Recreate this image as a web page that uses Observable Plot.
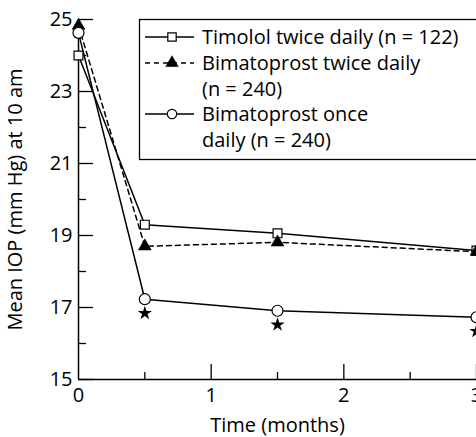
<!DOCTYPE html>
<html>
<head>
<meta charset="utf-8">
<script src="https://cdn.jsdelivr.net/npm/d3@7"></script>
<script src="https://cdn.jsdelivr.net/npm/@observablehq/plot@0.6"></script>
<style>
  html, body { margin: 0; padding: 0; background: #fff; overflow: hidden; }
  #wrap { position: relative; width: 476px; height: 437px; overflow: hidden; }
  #legend { position: absolute; left: 0; top: 0; }
</style>
</head>
<body>
<div id="wrap"></div>
<script>
// ---- data ----
const months = [0, 0.5, 1.5, 3];
const timolol = [24.0, 19.3, 19.06, 18.58];
const bimTwice = [24.83, 18.7, 18.81, 18.55];
const bimOnce = [24.63, 17.23, 16.91, 16.73];
const starMonths = [0.5, 1.5, 3];
const starValues = [17.23, 16.91, 16.73];
const yMajor = [15, 17, 19, 21, 23, 25];
const yMinor = [16, 18, 20, 22, 24];
const xMajor = [0, 1, 2, 3];
const xMajorTicks = [1, 2, 3];
const xMinor = [0.5, 1.5, 2.5];
const legendLines = [
  ["Timolol twice daily (n = 122)"],
  ["Bimatoprost twice daily", "(n = 240)"],
  ["Bimatoprost once", "daily (n = 240)"]
];

const font = "'Open Sans', sans-serif";

const series = (vals) => months.map((m, i) => ({m, v: vals[i]}));
const T = series(timolol), B2 = series(bimTwice), B1 = series(bimOnce);
const S = starMonths.map((m, i) => ({m, v: starValues[i]}));

const plot = Plot.plot({
  width: 476,
  height: 437,
  marginLeft: 78,
  marginRight: 0,
  marginTop: 19,
  marginBottom: 58,
  style: {fontFamily: font, fontSize: "18px", color: "#000", background: "#fff", overflow: "visible"},
  x: {domain: [0, 3]},
  y: {domain: [15, 25]},
  marks: [
    Plot.ruleX([0], {stroke: "#000", strokeWidth: 1.5}),
    Plot.ruleY([15], {stroke: "#000", strokeWidth: 1.5}),
    Plot.axisY({ticks: yMajor, tickSize: 15, dx: 15, tickFormat: () => "", label: null, strokeWidth: 1.3}),
    Plot.axisY({ticks: yMinor, tickSize: 8, dx: 8, tickFormat: () => "", label: null, strokeWidth: 1.3}),
    Plot.axisY({ticks: yMajor, tickSize: 0, tickPadding: 6, fontSize: 20, tickFormat: d => String(d), label: "Mean IOP (mm Hg) at 10 am", labelAnchor: "center", labelArrow: "none", labelOffset: 71}),
    Plot.axisX({ticks: xMajorTicks, tickSize: 15, dy: -15, tickFormat: () => "", label: null, strokeWidth: 1.3}),
    Plot.axisX({ticks: xMinor, tickSize: 7, dy: -7, tickFormat: () => "", label: null, strokeWidth: 1.3}),
    Plot.axisX({ticks: xMajor, tickSize: 0, tickPadding: 8, fontSize: 20, tickFormat: d => String(d), label: "Time (months)", labelAnchor: "center", labelArrow: "none", labelOffset: 52}),
    Plot.line(T, {x: "m", y: "v", stroke: "#000", strokeWidth: 1.5}),
    Plot.line(B2, {x: "m", y: "v", stroke: "#000", strokeWidth: 1.5, strokeDasharray: "5,4"}),
    Plot.line(B1, {x: "m", y: "v", stroke: "#000", strokeWidth: 1.5}),
    Plot.dot(T, {x: "m", y: "v", symbol: "square", r: 5, fill: "#fff", stroke: "#000", strokeWidth: 1.2}),
    Plot.dot(B2, {x: "m", y: "v", symbol: "triangle", r: 4.8, fill: "#000", stroke: "#000", strokeWidth: 0.5}),
    Plot.dot(B1, {x: "m", y: "v", symbol: "circle", r: 5.5, fill: "#fff", stroke: "#000", strokeWidth: 1.2}),
    Plot.dot(S, {x: "m", y: "v", symbol: "star", r: 4.5, fill: "#000", stroke: "none", dy: 14})
  ]
});
document.getElementById("wrap").appendChild(plot);

// ---- legend overlay ----
const lg = d3.select("#wrap").append("svg")
  .attr("id", "legend").attr("width", 476).attr("height", 437)
  .style("font-family", font).style("font-size", "20px");
lg.append("rect").attr("x", 139.5).attr("y", 19.5).attr("width", 340).attr("height", 140)
  .attr("fill", "#fff").attr("stroke", "#000").attr("stroke-width", 1.3);
const rowY = [37, 63, 114];
const symbols = [d3.symbolSquare, d3.symbolTriangle, d3.symbolCircle];
const fills = ["#fff", "#000", "#fff"];
const sizes = [70, 55, 70];
legendLines.forEach((lines, i) => {
  const y = rowY[i];
  lg.append("line").attr("x1", 145).attr("x2", 194).attr("y1", y).attr("y2", y)
    .attr("stroke", "#000").attr("stroke-width", 1.5)
    .attr("stroke-dasharray", i === 1 ? "5,4" : null);
  lg.append("path").attr("d", d3.symbol(symbols[i], sizes[i])())
    .attr("transform", `translate(172,${y})`)
    .attr("fill", fills[i]).attr("stroke", "#000").attr("stroke-width", 1.2);
  lines.forEach((t, j) => {
    lg.append("text").attr("x", 202).attr("y", y + j * 25.5).attr("dy", "0.35em").text(t);
  });
});
</script>
</body>
</html>
